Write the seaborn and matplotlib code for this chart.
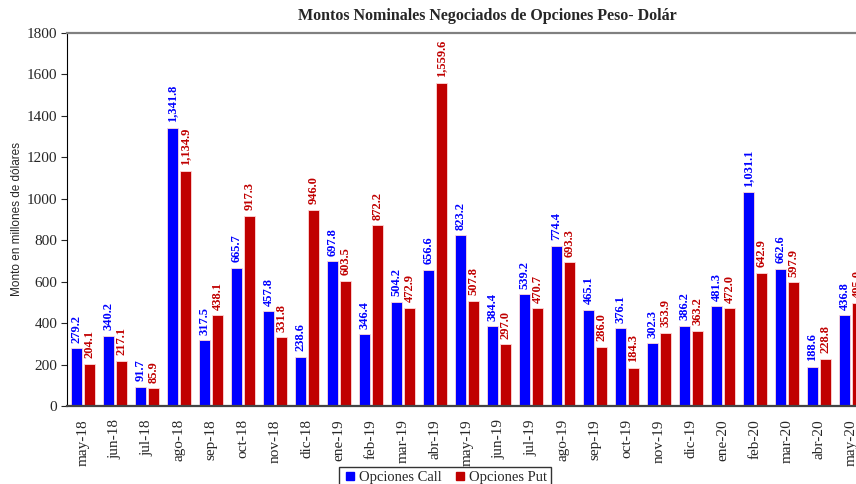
import seaborn as sns
import matplotlib.pyplot as plt
import pandas as pd

# months on the x axis
months = ["may-18", "jun-18", "jul-18", "ago-18", "sep-18", "oct-18", "nov-18", "dic-18",
          "ene-19", "feb-19", "mar-19", "abr-19", "may-19", "jun-19", "jul-19", "ago-19",
          "sep-19", "oct-19", "nov-19", "dic-19", "ene-20", "feb-20", "mar-20", "abr-20", "may-20"]
call = [279.2, 340.2, 91.7, 1341.8, 317.5, 665.7, 457.8, 238.6, 697.8, 346.4, 504.2, 656.6,
        823.2, 384.4, 539.2, 774.4, 465.1, 376.1, 302.3, 386.2, 481.3, 1031.1, 662.6, 188.6, 436.8]
put = [204.1, 217.1, 85.9, 1134.9, 438.1, 917.3, 331.8, 946.0, 603.5, 872.2, 472.9, 1559.6,
       507.8, 297.0, 470.7, 693.3, 286.0, 184.3, 353.9, 363.2, 472.0, 642.9, 597.9, 228.8, 495.0]
series = ["Opciones Call", "Opciones Put"]
colors = {"Opciones Call": "#0000FF", "Opciones Put": "#C00000"}

df = pd.DataFrame({
    "mes": months * 2,
    "monto": call + put,
    "tipo": [series[0]] * len(call) + [series[1]] * len(put),
})

sns.set_style("white")
serif = ["Liberation Serif", "DejaVu Serif"]

fig = plt.figure(figsize=(8.56, 4.84), dpi=100)
# the plot area runs past the right edge of the picture, as in the original
ax = fig.add_axes([67 / 856, 78 / 484, 800 / 856, 373 / 484])

sns.barplot(data=df, x="mes", y="monto", hue="tipo", palette=colors, saturation=1,
            width=0.81, gap=0.16, edgecolor="#ffd8d8", linewidth=0.6, ax=ax, legend=False)

for cont, name in zip(ax.containers, series):
    labels = [f"{b.get_height():,.1f}" for b in cont]
    ax.bar_label(cont, labels=labels, rotation=90, padding=4, fontsize=9,
                 fontweight="bold", color=colors[name], family=serif)

ax.set_xlim(-0.5, 24.5)
ax.set_ylim(0, 1800)
ax.set_yticks(range(0, 1801, 200))
ax.set_xlabel("")
ax.set_ylabel("Monto en millones de dólares", fontsize=8.5, family=["Liberation Sans", "DejaVu Sans"])
ax.yaxis.set_label_coords(-44 / 800, 0.5)
ax.tick_params(axis="y", left=True, length=4, width=0.8, labelsize=11, pad=3)
ax.tick_params(axis="x", bottom=False, labelsize=11, rotation=90, pad=6)
for t in ax.get_xticklabels() + ax.get_yticklabels():
    t.set_family(serif)
ax.spines["right"].set_visible(False)
ax.spines["left"].set_color("black")
ax.spines["bottom"].set_color("#444444")
ax.spines["bottom"].set_linewidth(1.6)
ax.spines["top"].set_color("#808080")
ax.spines["top"].set_linewidth(1.6)

fig.text(487 / 856, 1 - 16 / 484, "Montos Nominales Negociados de Opciones Peso- Dolár",
         ha="center", va="center", fontsize=11.5, fontweight="bold", family=serif)

handles = [plt.Line2D([], [], marker="s", ls="", color=colors[s], markersize=6) for s in series]
fig.legend(handles, series, loc="upper center", bbox_to_anchor=(445 / 856, 1 - 460 / 484),
           ncol=2, frameon=True, fancybox=False, edgecolor="black",
           prop={"family": serif, "size": 10.5}, handletextpad=0.1, columnspacing=0.8,
           borderpad=0.25, handlelength=1)

fig.savefig("out.png", dpi=100)
